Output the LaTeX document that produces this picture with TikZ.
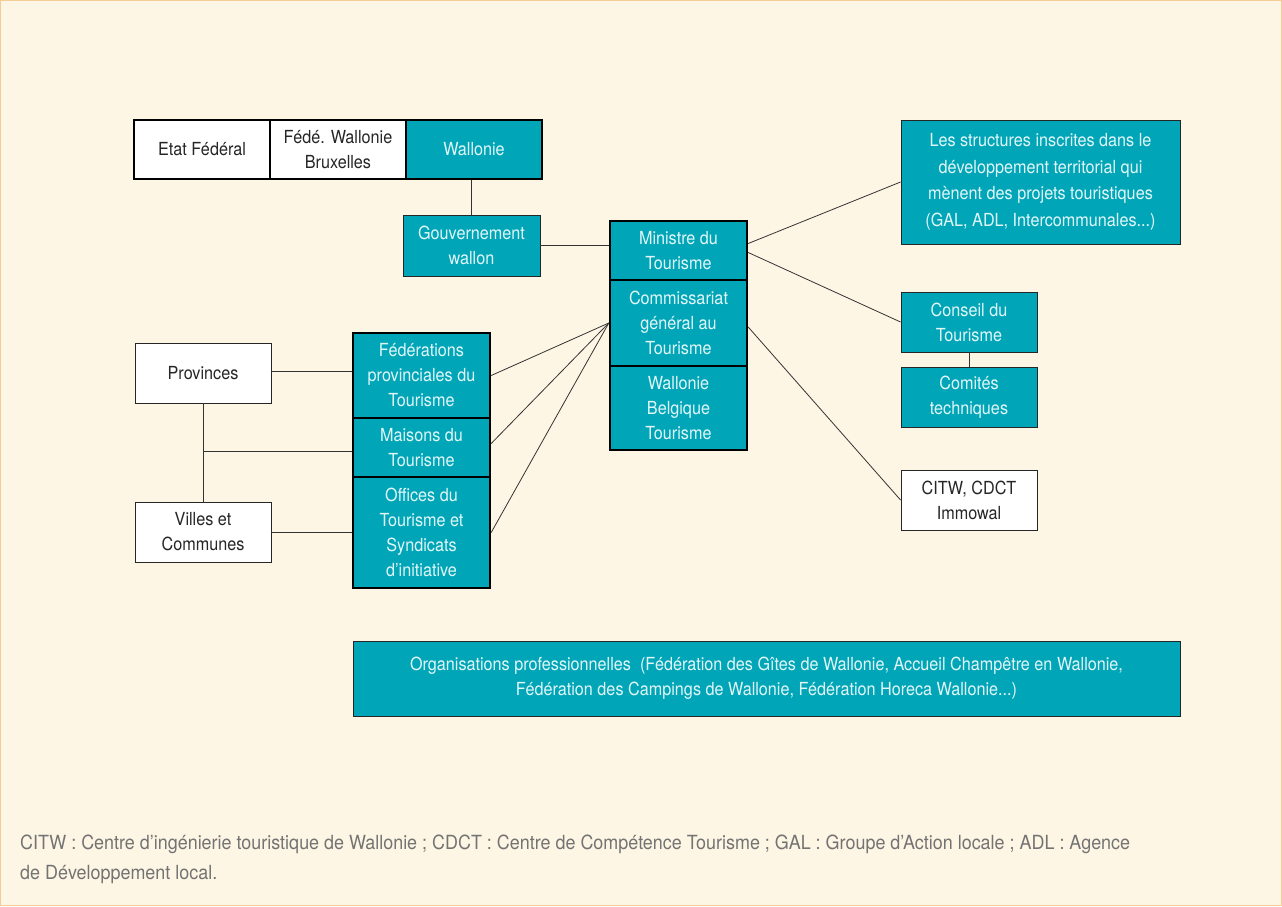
\documentclass[tikz,border=0pt]{standalone}
\usepackage{fontspec}
\setmainfont{TeX Gyre Heros}[FakeStretch=0.9]
\newfontfamily\notefont{TeX Gyre Heros}[FakeStretch=0.92]
\definecolor{bgcream}{RGB}{254,246,228}
\definecolor{framecol}{RGB}{246,204,150}
\definecolor{tealbox}{RGB}{0,166,184}
\definecolor{tealtext}{RGB}{226,246,248}
\definecolor{notegray}{RGB}{115,115,115}
\tikzset{
  box/.style={draw=black!85, line width=0.9pt, align=center, inner sep=2pt,
    font=\fontsize{18}{25}\selectfont},
  tbox/.style={box, fill=tealbox, text=tealtext},
  wbox/.style={box, fill=white, text=black!85},
  heavy/.style={line width=2.4pt, draw=black},
  link/.style={draw=black!80, line width=0.8pt},
}
\begin{document}
\begin{tikzpicture}[x=1pt,y=-1pt]
  \useasboundingbox (0,0) rectangle (1282,906);
  \fill[bgcream] (0,0) rectangle (1282,906);
  \draw[framecol, line width=1.2pt] (0.6,0.6) rectangle (1281.4,905.4);

  % niveau institutionnel
  \node[wbox,heavy,minimum width=136pt,minimum height=59pt] (etat) at (202,149.5) {Etat Fédéral};
  \node[wbox,heavy,minimum width=136pt,minimum height=59pt] (fwb) at (338,149.5) {Fédé. Wallonie\\Bruxelles};
  \node[tbox,heavy,minimum width=136pt,minimum height=59pt] (wal) at (474,149.5) {Wallonie};
  \node[tbox,minimum width=137pt,minimum height=61pt] (gouv) at (471.5,245.5) {Gouvernement\\wallon};

  % pile centrale
  \node[tbox,heavy,minimum width=137pt,minimum height=59pt] (min) at (678.5,250.5) {Ministre du\\Tourisme};
  \node[tbox,heavy,minimum width=137pt,minimum height=86pt] (cgt) at (678.5,323) {Commissariat\\général au\\Tourisme};
  \node[tbox,heavy,minimum width=137pt,minimum height=84pt] (wbt) at (678.5,408) {Wallonie\\Belgique\\Tourisme};

  % droite
  \node[tbox,minimum width=279pt,minimum height=124pt,font=\fontsize{18}{26.5}\selectfont] (struct) at (1040.5,182)
    {Les structures inscrites dans le\\développement territorial qui\\mènent des projets touristiques\\(GAL, ADL, Intercommunales...)};
  \node[tbox,minimum width=136pt,minimum height=60pt] (cons) at (969,322) {Conseil du\\Tourisme};
  \node[tbox,minimum width=136pt,minimum height=60pt] (comit) at (969,397) {Comités\\techniques};
  \node[wbox,minimum width=136pt,minimum height=60pt] (citw) at (969,500) {CITW, CDCT\\Immowal};

  % gauche
  \node[wbox,minimum width=136pt,minimum height=60pt] (prov) at (203,373) {Provinces};
  \node[wbox,minimum width=136pt,minimum height=60pt] (villes) at (203,532) {Villes et\\Communes};
  \node[tbox,heavy,minimum width=137pt,minimum height=85pt] (fed) at (421.5,375.5) {Fédérations\\provinciales du\\Tourisme};
  \node[tbox,heavy,minimum width=137pt,minimum height=59pt] (mais) at (421.5,447.5) {Maisons du\\Tourisme};
  \node[tbox,heavy,minimum width=137pt,minimum height=111pt] (off) at (421.5,532.5) {Offices du\\Tourisme et\\Syndicats\\d’initiative};

  % bas
  \node[tbox,minimum width=827pt,minimum height=75pt] (org) at (766.5,678.5)
    {Organisations professionnelles\ \ (Fédération des Gîtes de Wallonie, Accueil Champêtre en Wallonie,\\Fédération des Campings de Wallonie, Fédération Horeca Wallonie...)};

  % liaisons
  \draw[link] (gouv.north) -- (gouv.north |- wal.south);
  \draw[link] (gouv.east) -- (gouv.east -| min.west);
  \draw[link] ([yshift=7pt]min.east) -- (struct.west);
  \draw[link] ([yshift=-2pt]min.east) -- (cons.west);
  \draw[link] (cons.south) -- (comit.north);
  \draw[link] ([yshift=-4pt]cgt.east) -- (citw.west);
  \draw[link] (fed.east) -- (cgt.west);
  \draw[link] ([yshift=4pt]mais.east) -- (cgt.west);
  \draw[link] (off.east) -- (cgt.west);
  \draw[link] ([yshift=2pt]prov.east) -- ([yshift=2pt]prov.east -| fed.west);
  \draw[link] (prov.south) -- (villes.north);
  \coordinate (junc) at ([yshift=-4pt]prov.south |- mais.west);
  \draw[link] (junc) -- (junc -| mais.west);
  \draw[link] (villes.east) -- (villes.east -| off.west);

  % note
  \node[anchor=base west, text=notegray, font=\notefont\fontsize{19.5}{24}\selectfont, inner sep=0pt] (note1) at (20,849)
    {CITW : Centre d’ingénierie touristique de Wallonie ; CDCT : Centre de Compétence Tourisme ; GAL : Groupe d’Action locale ; ADL : Agence};
  \node[anchor=base west, text=notegray, font=\notefont\fontsize{19.5}{24}\selectfont, inner sep=0pt] (note2) at (20,879)
    {de Développement local.};
\end{tikzpicture}
\end{document}
